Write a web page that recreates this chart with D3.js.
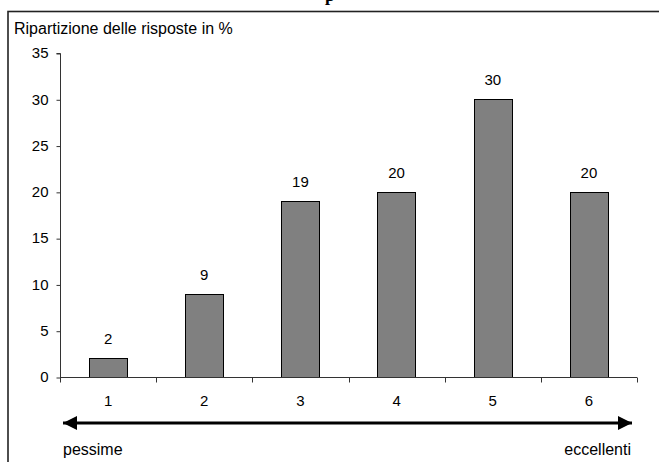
<!DOCTYPE html>
<html>
<head>
<meta charset="utf-8">
<script src="https://cdn.jsdelivr.net/npm/d3@7"></script>
<style>
  body { margin: 0; background: #fff; }
  svg { display: block; }
</style>
</head>
<body>
<div id="wrapper"></div>
<script>
const categories = ["1", "2", "3", "4", "5", "6"];
const values = [2, 9, 19, 20, 30, 20];
const yTicks = [0, 5, 10, 15, 20, 25, 30, 35];
const yTitle = "Ripartizione delle risposte in %";
const lowLabel = "pessime";
const highLabel = "eccellenti";

function drawBar() {
    const dimensions = {
        width: 659,
        height: 462,
        margin: { top: 53, right: 22, bottom: 85, left: 60 },
    };
    dimensions.boundedWidth = dimensions.width - dimensions.margin.left - dimensions.margin.right;
    dimensions.boundedHeight = dimensions.height - dimensions.margin.top - dimensions.margin.bottom;

    const wrapper = d3.select("#wrapper")
        .html("")
        .append("svg")
        .attr("width", dimensions.width)
        .attr("height", dimensions.height)
        .style("font-family", "Arial, 'Liberation Sans', sans-serif");

    // outer frame (runs past the right and bottom of the window)
    wrapper.append("rect")
        .attr("x", 8)
        .attr("y", 11.5)
        .attr("width", 700)
        .attr("height", 500)
        .attr("fill", "none")
        .attr("stroke", "#222")
        .attr("stroke-width", 1.6);

    // clipped title, only the descender shows
    wrapper.append("text")
        .attr("x", 325)
        .attr("y", 1)
        .text("p")
        .attr("font-family", "'Liberation Serif', 'Times New Roman', serif")
        .attr("font-weight", "bold")
        .attr("font-size", "18px");

    wrapper.append("text")
        .attr("x", 14)
        .attr("y", 34)
        .text(yTitle)
        .attr("font-size", "16px")
        .attr("fill", "black");

    const bounds = wrapper.append("g")
        .attr("transform", `translate(${dimensions.margin.left},${dimensions.margin.top})`);

    const xScaler = d3.scaleBand()
        .domain(categories)
        .range([0, dimensions.boundedWidth])
        .paddingInner(0.6)
        .paddingOuter(0.3);

    const yScaler = d3.scaleLinear()
        .domain([0, 35])
        .range([dimensions.boundedHeight, 0]);

    bounds.selectAll("rect.bar")
        .data(values)
        .enter()
        .append("rect")
        .attr("class", "bar")
        .attr("x", (d, i) => Math.round(xScaler(categories[i])) + 0.5)
        .attr("y", d => Math.round(yScaler(d)) + 0.5)
        .attr("width", Math.round(xScaler.bandwidth()))
        .attr("height", d => Math.round(yScaler(0)) - Math.round(yScaler(d)))
        .attr("fill", "#808080")
        .attr("stroke", "black")
        .attr("stroke-width", 1);

    bounds.selectAll("text.val")
        .data(values)
        .enter()
        .append("text")
        .attr("class", "val")
        .attr("x", (d, i) => xScaler(categories[i]) + xScaler.bandwidth() / 2)
        .attr("y", d => yScaler(d) - 14)
        .text(d => d)
        .attr("font-size", "15px")
        .attr("text-anchor", "middle");

    // y axis
    const yAxisGen = d3.axisLeft(yScaler)
        .tickValues(yTicks)
        .tickSize(4)
        .tickPadding(8);
    const yAxis = bounds.append("g")
        .attr("transform", "translate(0.5,0)")
        .call(yAxisGen);
    yAxis.select(".domain").attr("d", `M-4,0.5H0V${dimensions.boundedHeight}`);
    yAxis.selectAll(".tick line").attr("transform", "translate(0,0.5)");
    yAxis.selectAll("text").attr("font-size", "15px").attr("font-family", null).attr("fill", "black");
    yAxis.selectAll("path, line").attr("stroke", "#333");

    // x axis, ticks sit between categories
    const edgeScale = d3.scaleLinear()
        .domain([0, categories.length])
        .range([0, dimensions.boundedWidth]);
    const xAxis = bounds.append("g")
        .attr("transform", `translate(0,${dimensions.boundedHeight + 0.5})`);
    xAxis.append("line")
        .attr("x1", 0)
        .attr("x2", dimensions.boundedWidth)
        .attr("stroke", "#333");
    xAxis.selectAll("line.tick")
        .data(d3.range(categories.length + 1))
        .enter()
        .append("line")
        .attr("class", "tick")
        .attr("x1", d => Math.round(edgeScale(d)) + 0.5)
        .attr("x2", d => Math.round(edgeScale(d)) + 0.5)
        .attr("y1", 0)
        .attr("y2", 5)
        .attr("stroke", "#333");
    xAxis.selectAll("text")
        .data(categories)
        .enter()
        .append("text")
        .attr("x", d => xScaler(d) + xScaler.bandwidth() / 2)
        .attr("y", 28)
        .text(d => d)
        .attr("font-size", "15px")
        .attr("text-anchor", "middle");

    // double-headed arrow
    const defs = wrapper.append("defs");
    defs.append("marker")
        .attr("id", "head")
        .attr("viewBox", "0 0 10 10")
        .attr("refX", 10)
        .attr("refY", 5)
        .attr("markerWidth", 15)
        .attr("markerHeight", 14)
        .attr("markerUnits", "userSpaceOnUse")
        .attr("orient", "auto-start-reverse")
        .append("path")
        .attr("d", "M0,0L10,5L0,10Z")
        .attr("fill", "black");

    const arrowY = dimensions.boundedHeight + 46;
    bounds.append("line")
        .attr("x1", 3)
        .attr("x2", dimensions.boundedWidth - 5)
        .attr("y1", arrowY)
        .attr("y2", arrowY)
        .attr("stroke", "black")
        .attr("stroke-width", 3)
        .attr("marker-start", "url(#head)")
        .attr("marker-end", "url(#head)");

    bounds.append("text")
        .attr("x", 3)
        .attr("y", arrowY + 32)
        .text(lowLabel)
        .attr("font-size", "16px");

    bounds.append("text")
        .attr("x", dimensions.boundedWidth - 6)
        .attr("y", arrowY + 32)
        .text(highLabel)
        .attr("font-size", "16px")
        .attr("text-anchor", "end");
}

drawBar();
</script>
</body>
</html>
